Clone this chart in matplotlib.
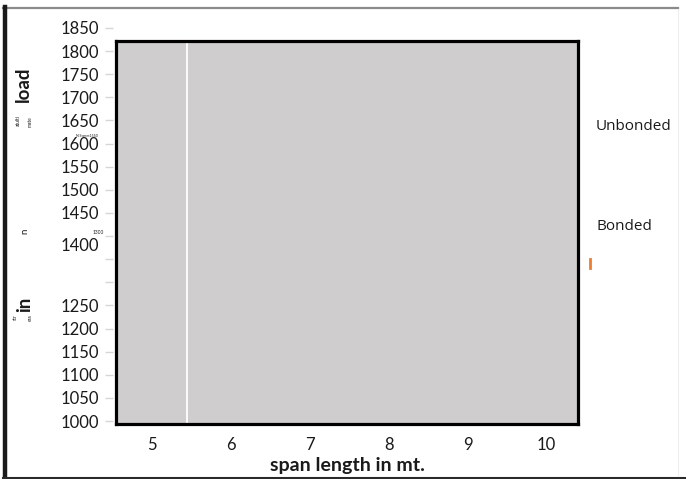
import matplotlib
matplotlib.use("Agg")
import matplotlib.pyplot as plt
from matplotlib.lines import Line2D
import matplotlib.transforms as mtransforms

# ---- data ----
x_ticks = [5, 6, 7, 8, 9, 10]
x_tick_labels = ["5", "6", "7", "8", "9", "10"]
y_ticks = [1000, 1050, 1100, 1150, 1200, 1250, 1300, 1350, 1400,
           1450, 1500, 1550, 1600, 1650, 1700, 1750, 1800, 1850]
y_tick_labels = ["1000", "1050", "1100", "1150", "1200", "1250", "", "",
                 "1400", "1450", "1500", "1550", "1600", "1650", "1700",
                 "1750", "1800", "1850"]
series_names = ["Unbonded", "Bonded"]
ref_line_x = [5.44]

W, H = 686, 479
fig = plt.figure(figsize=(W / 100, H / 100), dpi=100)
fig.patch.set_facecolor("white")

def fx(x):
    return x / W

def fy(y):
    return 1 - y / H

# ---- outer frame (scanned page border) ----
fig.add_artist(Line2D([fx(3), fx(678)], [fy(8), fy(8)], color="#8a8a8a", lw=1.6))
fig.add_artist(Line2D([fx(5), fx(5)], [fy(7), fy(479)], color="#1a1a1a", lw=3.2))
fig.add_artist(Line2D([fx(3), fx(686)], [fy(477.5), fy(477.5)], color="#2a2a2a", lw=2.2))
fig.add_artist(Line2D([fx(678), fx(678)], [fy(9), fy(476)], color="#eeeeee", lw=0.8))

# ---- gray plot box with x ticks ----
bl, br, bt, bb = 116, 578, 41, 424
axbox = fig.add_axes([fx(bl), fy(bb), (br - bl) / W, (bb - bt) / H])
axbox.set_facecolor("#cfcdcd")
for s in axbox.spines.values():
    s.set_color("black")
    s.set_linewidth(2.3)
xlo = 4.539
xhi = xlo + (br - bl) / 78.8
axbox.set_xlim(xlo, xhi)
axbox.set_ylim(0, 1)
axbox.set_xticks(x_ticks)
axbox.set_xticklabels(x_tick_labels, fontsize=12, family="Lato", color="#1a1a1a")
axbox.tick_params(axis="x", length=0, pad=9)
axbox.set_yticks([])
for xv in ref_line_x:
    axbox.axvline(xv, color="white", lw=1.3, zorder=2)
axbox.set_xlabel("span length in mt.", fontsize=14, family="Lato",
                 fontweight="bold", color="#1a1a1a", labelpad=3)

# ---- y axis ticks ----
ay_top, ay_bot = 28, 421
ay = fig.add_axes([fx(113), fy(ay_bot), 1 / W, (ay_bot - ay_top) / H])
ay.patch.set_alpha(0)
for s in ay.spines.values():
    s.set_visible(False)
ay.set_ylim(1000, 1850)
ay.set_yticks(y_ticks)
ay.set_yticklabels(y_tick_labels, fontsize=12, family="Lato", color="#1a1a1a")
ay.tick_params(axis="y", length=6, width=1, color="#d6d6d6", pad=4)
ay.set_xticks([])
# the scanned "1400" label sits a little below its tick
for lab in ay.get_yticklabels():
    if lab.get_text() == "1400":
        lab.set_transform(lab.get_transform() +
                          mtransforms.ScaledTranslation(0, -8 / 100, fig.dpi_scale_trans))

# ---- garbled y-axis title fragments ----
fig.text(fx(23), fy(84), "load", rotation=90, fontsize=13.5, family="Lato",
         fontweight="bold", ha="center", va="center", color="#1a1a1a")
fig.text(fx(25), fy(304), "in", rotation=90, fontsize=13.5, family="Lato",
         fontweight="bold", ha="center", va="center", color="#1a1a1a")
fig.text(fx(18), fy(120), "atulti", rotation=90, fontsize=3.5, family="Lato",
         ha="center", va="center", color="#1a1a1a")
fig.text(fx(30), fy(122), "mate", rotation=90, fontsize=3.5, family="Lato",
         ha="center", va="center", color="#1a1a1a")
fig.text(fx(25), fy(231), "n", rotation=90, fontsize=7, family="Lato",
         ha="center", va="center", color="#1a1a1a")
fig.text(fx(15), fy(317), "str", rotation=90, fontsize=3.5, family="Lato",
         ha="center", va="center", color="#1a1a1a")
fig.text(fx(30), fy(318), "ess", rotation=90, fontsize=3.5, family="Lato",
         ha="center", va="center", color="#1a1a1a")
fig.text(fx(87), fy(136), "N/Sqmm1550", fontsize=2.6, family="Lato",
         ha="center", va="center", color="#1a1a1a")
fig.text(fx(98), fy(232), "1300", fontsize=3.5, family="Lato",
         ha="center", va="center", color="#1a1a1a")

# ---- legend fragments ----
fig.text(fx(596), fy(127), series_names[0], fontsize=11, family="Open Sans",
         ha="left", va="center", color="#1a1a1a")
fig.text(fx(596), fy(227), series_names[1], fontsize=11, family="Open Sans",
         ha="left", va="center", color="#1a1a1a")
fig.add_artist(Line2D([fx(590), fx(590)], [fy(259), fy(268)], color="#ed7d31", lw=2))

fig.savefig("out.png", dpi=100)
